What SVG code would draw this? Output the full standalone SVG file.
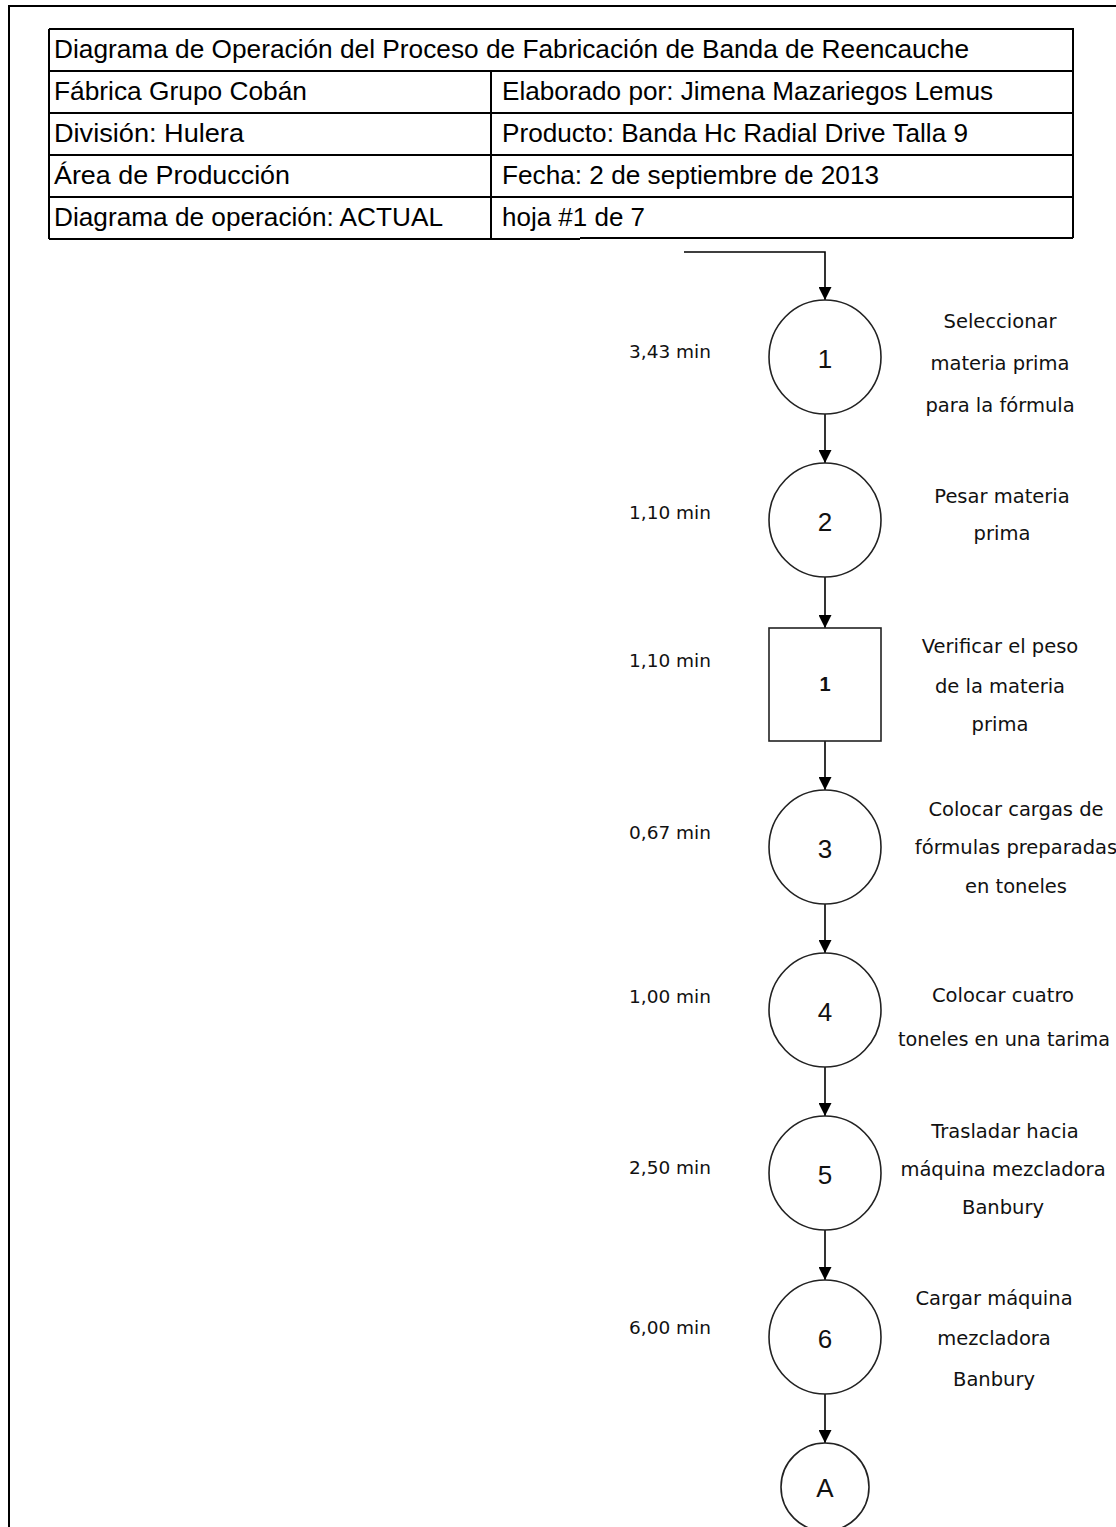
<svg xmlns="http://www.w3.org/2000/svg" width="1116" height="1527" viewBox="0 0 1116 1527">
<style>
.frame{fill:none;stroke:#000;stroke-width:2}
.tbl{stroke:#000;stroke-width:2;fill:none}
.tt{font-family:"Liberation Sans",Arial,sans-serif;font-size:26px;fill:#000}
.node{fill:#fff;stroke:#222;stroke-width:1.6}
.num{font-family:"Liberation Sans",Arial,sans-serif;font-size:26px;fill:#111;text-anchor:middle}
.time{font-family:"DejaVu Sans",sans-serif;font-size:18.5px;fill:#111}
.lbl{font-family:"DejaVu Sans",sans-serif;font-size:19.5px;fill:#111;text-anchor:middle}
.con{fill:none;stroke:#000;stroke-width:1.6}
</style>
<defs>
<marker id="arr" markerUnits="userSpaceOnUse" markerWidth="13" markerHeight="13" viewBox="0 0 13 13" refX="13" refY="6.5" orient="auto">
<path d="M0,0 L13,6.5 L0,13 z" fill="#000"/>
</marker>
</defs>
<rect width="1116" height="1527" fill="#fff"/>
<path class="frame" d="M9,1527 L9,6 L1116,6"/>
<g id="header">
<path class="tbl" d="M49,29 H1073 V238 M49,29 V239 M49,71 H1073 M49,113 H1073 M49,155 H1073 M49,197 H1073 M491,71 V239 M49,239 H580 M580,238 H1073"/>
<text class="tt" x="54" y="58" textLength="915" lengthAdjust="spacingAndGlyphs">Diagrama de Operación del Proceso de Fabricación de Banda de Reencauche</text>
<text class="tt" x="54" y="100" textLength="253" lengthAdjust="spacingAndGlyphs">Fábrica Grupo Cobán</text>
<text class="tt" x="54" y="142" textLength="190" lengthAdjust="spacingAndGlyphs">División: Hulera</text>
<text class="tt" x="54" y="184" textLength="236" lengthAdjust="spacingAndGlyphs">Área de Producción</text>
<text class="tt" x="54" y="226" textLength="389" lengthAdjust="spacingAndGlyphs">Diagrama de operación: ACTUAL</text>
<text class="tt" x="502" y="100" textLength="491" lengthAdjust="spacingAndGlyphs">Elaborado por: Jimena Mazariegos Lemus</text>
<text class="tt" x="502" y="142" textLength="466" lengthAdjust="spacingAndGlyphs">Producto: Banda Hc Radial Drive Talla 9</text>
<text class="tt" x="502" y="184" textLength="377" lengthAdjust="spacingAndGlyphs">Fecha: 2 de septiembre de 2013</text>
<text class="tt" x="502" y="226" textLength="143" lengthAdjust="spacingAndGlyphs">hoja #1 de 7</text>
</g>
<g id="connectors">
<path class="con" d="M684,252 H825 V300" marker-end="url(#arr)"/>
<path class="con" d="M825,414 V463" marker-end="url(#arr)"/>
<path class="con" d="M825,577 V628" marker-end="url(#arr)"/>
<path class="con" d="M825,741 V790" marker-end="url(#arr)"/>
<path class="con" d="M825,904 V953" marker-end="url(#arr)"/>
<path class="con" d="M825,1067 V1116" marker-end="url(#arr)"/>
<path class="con" d="M825,1230 V1280" marker-end="url(#arr)"/>
<path class="con" d="M825,1394 V1443" marker-end="url(#arr)"/>
</g>
<g id="op1">
<ellipse class="node" cx="825" cy="357" rx="56" ry="57"/>
<text class="num" x="825" y="368">1</text>
<text class="time" x="629" y="358">3,43 min</text>
<text class="lbl" x="1000" y="328">Seleccionar</text>
<text class="lbl" x="1000" y="370">materia prima</text>
<text class="lbl" x="1000" y="412">para la fórmula</text>
</g>
<g id="op2">
<ellipse class="node" cx="825" cy="520" rx="56" ry="57"/>
<text class="num" x="825" y="531">2</text>
<text class="time" x="629" y="519">1,10 min</text>
<text class="lbl" x="1002" y="503">Pesar materia</text>
<text class="lbl" x="1002" y="540">prima</text>
</g>
<g id="insp1">
<rect class="node" x="769" y="628" width="112" height="113" stroke-width="2"/>
<text class="num" x="825" y="691" style="font-size:20px;font-weight:bold">1</text>
<text class="time" x="629" y="667">1,10 min</text>
<text class="lbl" x="1000" y="653">Verificar el peso</text>
<text class="lbl" x="1000" y="693">de la materia</text>
<text class="lbl" x="1000" y="731">prima</text>
</g>
<g id="op3">
<ellipse class="node" cx="825" cy="847" rx="56" ry="57"/>
<text class="num" x="825" y="858">3</text>
<text class="time" x="629" y="839">0,67 min</text>
<text class="lbl" x="1016" y="816">Colocar cargas de</text>
<text class="lbl" x="1016" y="854">fórmulas preparadas</text>
<text class="lbl" x="1016" y="893">en toneles</text>
</g>
<g id="op4">
<ellipse class="node" cx="825" cy="1010" rx="56" ry="57"/>
<text class="num" x="825" y="1021">4</text>
<text class="time" x="629" y="1003">1,00 min</text>
<text class="lbl" x="1003" y="1002">Colocar cuatro</text>
<text class="lbl" x="1004" y="1046" textLength="212" lengthAdjust="spacingAndGlyphs">toneles en una tarima</text>
</g>
<g id="op5">
<ellipse class="node" cx="825" cy="1173" rx="56" ry="57"/>
<text class="num" x="825" y="1184">5</text>
<text class="time" x="629" y="1174">2,50 min</text>
<text class="lbl" x="1005" y="1138">Trasladar hacia</text>
<text class="lbl" x="1003" y="1176">máquina mezcladora</text>
<text class="lbl" x="1003" y="1214">Banbury</text>
</g>
<g id="op6">
<ellipse class="node" cx="825" cy="1337" rx="56" ry="57"/>
<text class="num" x="825" y="1348">6</text>
<text class="time" x="629" y="1334">6,00 min</text>
<text class="lbl" x="994" y="1305">Cargar máquina</text>
<text class="lbl" x="994" y="1345">mezcladora</text>
<text class="lbl" x="994" y="1386">Banbury</text>
</g>
<g id="connA">
<ellipse class="node" cx="825" cy="1487" rx="44" ry="44"/>
<text class="num" x="825" y="1497">A</text>
</g>
</svg>
